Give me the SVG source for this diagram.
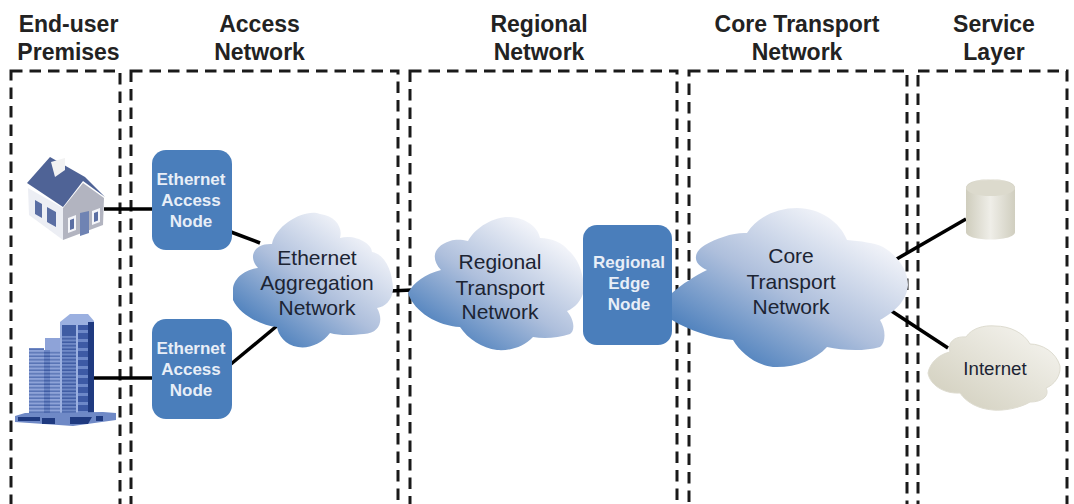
<svg xmlns="http://www.w3.org/2000/svg" width="1074" height="504" viewBox="0 0 1074 504">
<style>
text{font-family:"Liberation Sans",Arial,sans-serif;text-anchor:middle}
.h{font-size:23px;font-weight:bold;fill:#222}
.n{font-size:17px;font-weight:bold;fill:#e8eef7}
.c{font-size:21px;fill:#1c2433}
.zone{fill:none;stroke:#1a1a1a;stroke-width:3;stroke-dasharray:11.500 7}
.link{stroke:#000;stroke-width:3.500;fill:none}
.box{fill:#4a7ebb}
.pane{fill:#5a6ea3}
.frame{fill:#f4f5f9}
</style>
<defs>
<linearGradient id="blue" x1="0.15" y1="0.95" x2="0.85" y2="0.15">
<stop offset="0" stop-color="#3f77b8"/><stop offset="0.5" stop-color="#aebfdc"/><stop offset="1" stop-color="#f6f7fb"/>
</linearGradient>
<linearGradient id="tan" x1="0" y1="1" x2="1" y2="0">
<stop offset="0" stop-color="#cfccba"/><stop offset="1" stop-color="#f8f7f3"/>
</linearGradient>
<linearGradient id="cyl" x1="0" y1="0" x2="1" y2="0">
<stop offset="0" stop-color="#cfcdbd"/><stop offset="0.5" stop-color="#efeee8"/><stop offset="1" stop-color="#d0cebf"/>
</linearGradient>
<pattern id="floorsL" width="6" height="3.500" patternUnits="userSpaceOnUse">
<rect width="6" height="3.500" fill="#8ea3d8"/><rect y="2" width="6" height="1.500" fill="#5873b4"/>
</pattern>
<pattern id="floorsM" width="6" height="3.500" patternUnits="userSpaceOnUse">
<rect width="6" height="3.500" fill="#6f89c6"/><rect y="2" width="6" height="1.500" fill="#3f5ca3"/>
</pattern>
<pattern id="floorsD" width="6" height="9" patternUnits="userSpaceOnUse">
<rect width="6" height="9" fill="#3d5aa5"/><rect y="6" width="6" height="3" fill="#6d88c8"/>
</pattern>
</defs>
<g id="zones">
<rect class="zone" x="11" y="71" width="109" height="460"/>
<rect class="zone" x="131" y="71" width="267" height="460"/>
<rect class="zone" x="410" y="71" width="267" height="460"/>
<rect class="zone" x="689" y="71" width="218" height="460"/>
<rect class="zone" x="918" y="71" width="149" height="460"/>
</g>
<g id="headers">
<text class="h" x="68.500" y="32">End-user</text><text class="h" x="68.500" y="60">Premises</text>
<text class="h" x="259.500" y="32">Access</text><text class="h" x="259.500" y="60">Network</text>
<text class="h" x="539" y="32">Regional</text><text class="h" x="539" y="60">Network</text>
<text class="h" x="797" y="32">Core Transport</text><text class="h" x="797" y="60">Network</text>
<text class="h" x="994" y="32">Service</text><text class="h" x="994" y="60">Layer</text>
</g>
<g id="connectors">
<line class="link" x1="104" y1="209" x2="153" y2="209"/>
<line class="link" x1="94" y1="378" x2="153" y2="378"/>
<line class="link" x1="231" y1="232" x2="260" y2="243"/>
<line class="link" x1="231" y1="364" x2="278" y2="325"/>
<line class="link" x1="390" y1="291" x2="412" y2="290"/>
<line class="link" x1="895" y1="260" x2="966" y2="219"/>
<line class="link" x1="890" y1="310" x2="948" y2="348"/>
</g>
<g id="house">
<path d="M28 188L63 208V240L29 215Z" fill="#eceef4"/>
<path d="M63 208L83 183L104 198L103 225L63 240Z" fill="#b2b4c0"/>
<path d="M27 183L50 157L85 177L105 197L83 181L63 207Z" fill="#4f6396"/>
<path d="M51 162L65 158V170L55 177Z" fill="#f2f2f2"/>
<path class="pane" d="M35 200l7 4v14l-7-4zM47 207l9 5v15l-9-5z"/>
<path class="frame" d="M68 218l8-3v15l-8 3zM92 211l8-3v14l-8 3z"/>
<path class="pane" d="M70 220l4-1.500v10l-4 1.500zM94 213l4-1.500v9l-4 1.500z"/>
<path d="M80 213l9-2v22l-9 3z" fill="#6f83b3"/>
</g>
<g id="building">
<rect x="29" y="348" width="15" height="66" fill="url(#floorsL)"/>
<rect x="44" y="350" width="14" height="64" fill="url(#floorsM)"/>
<rect x="45" y="338" width="17" height="12" fill="#8ea3d8"/>
<rect x="50" y="350" width="12" height="64" fill="url(#floorsL)"/>
<path d="M60 322L70 314H88L94 321V414H60Z" fill="#9bb0e0"/>
<rect x="62" y="325" width="14" height="10" fill="#3f5ca3"/>
<rect x="62" y="335" width="14" height="78" fill="url(#floorsM)"/>
<rect x="78" y="325" width="10" height="88" fill="url(#floorsD)"/>
<rect x="88" y="322" width="6" height="91" fill="#1f3a80"/>
<path d="M15 416L25 413L103 412L116 413V420L73 426L15 422Z" fill="#6f89c6"/>
<path d="M18 417H40V421H18ZM42 418H55V424H42ZM70 417H92L88 424H70ZM96 416H103V421H96Z" fill="#1f3a80"/>
</g>
<g id="ethernet-aggregation">
<path d="M233 290C233 279 244 270 258 268C247 256 255 243 272 244C276 224 306 208 320 214C336 216 343 228 340 238C356 234 372 244 372 252C385 254 393 272 393 290C392 300 385 307 377 308C384 320 380 333 364 334C354 335 340 336 330 333C322 344 308 349 298 347C285 345 278 335 277 327C262 326 240 315 233 300Z" fill="url(#blue)"/>
<text class="c" x="317" y="265">Ethernet</text><text class="c" x="317" y="290">Aggregation</text><text class="c" x="317" y="315">Network</text>
</g>
<g id="regional-transport">
<path d="M408 293C414 282 425 274 441 270C430 258 434 246 450 241C457 239 462 240 468 241C476 226 496 216 510 217C526 218 538 227 540 238C552 238 563 243 568 250C578 258 584 274 584 290C582 300 575 308 567 311C576 322 574 332 570 334C558 338 544 339 533 337C524 347 510 351 497 350C482 348 468 339 460 327C438 326 414 312 408 293Z" fill="url(#blue)"/>
<text class="c" x="500" y="269">Regional</text><text class="c" x="500" y="295">Transport</text><text class="c" x="500" y="319">Network</text>
</g>
<g id="core-transport">
<path d="M672 293C682 284 695 276 707 270C692 264 693 252 705 245C716 238 735 232 747 233C758 216 778 208 797 208C820 208 840 222 847 240C860 241 875 243 883 247C897 255 908 270 908 285C907 300 895 312 880 320C886 330 886 342 880 347C862 352 842 350 827 347C815 360 795 368 773 367C755 365 740 352 733 340C712 338 688 330 672 320Z" fill="url(#blue)"/>
<text class="c" x="791" y="263">Core</text><text class="c" x="791" y="289">Transport</text><text class="c" x="791" y="314">Network</text>
</g>
<g id="internet">
<path d="M928 373C930 362 940 354 950 352C947 343 954 336 966 337C972 328 984 325 995 326C1010 326 1024 333 1030 344C1042 344 1056 352 1060 366C1061 376 1054 385 1046 388C1050 396 1042 402 1030 402C1020 408 1004 411 993 410C978 409 966 402 960 393C944 394 930 385 928 373Z" fill="url(#tan)" stroke="#dedcd0"/>
<text x="995" y="375" font-size="18.700" fill="#1c2433">Internet</text>
</g>
<g id="database">
<path d="M966 188C966 176 1015 176 1015 188V232C1015 242 966 242 966 232Z" fill="url(#cyl)"/>
<ellipse cx="990.500" cy="188" rx="24.500" ry="8" fill="#dcdacd"/>
</g>
<g id="access-node-1">
<rect class="box" x="152" y="150" width="80" height="100" rx="14"/>
<text class="n" x="191" y="185">Ethernet</text><text class="n" x="191" y="206">Access</text><text class="n" x="191" y="227">Node</text>
</g>
<g id="access-node-2">
<rect class="box" x="152" y="319" width="80" height="100" rx="14"/>
<text class="n" x="191" y="354">Ethernet</text><text class="n" x="191" y="375">Access</text><text class="n" x="191" y="396">Node</text>
</g>
<g id="regional-edge-node">
<rect class="box" x="583" y="225" width="89" height="120" rx="14"/>
<text class="n" x="629" y="268">Regional</text><text class="n" x="629" y="289">Edge</text><text class="n" x="629" y="310">Node</text>
</g>
</svg>
